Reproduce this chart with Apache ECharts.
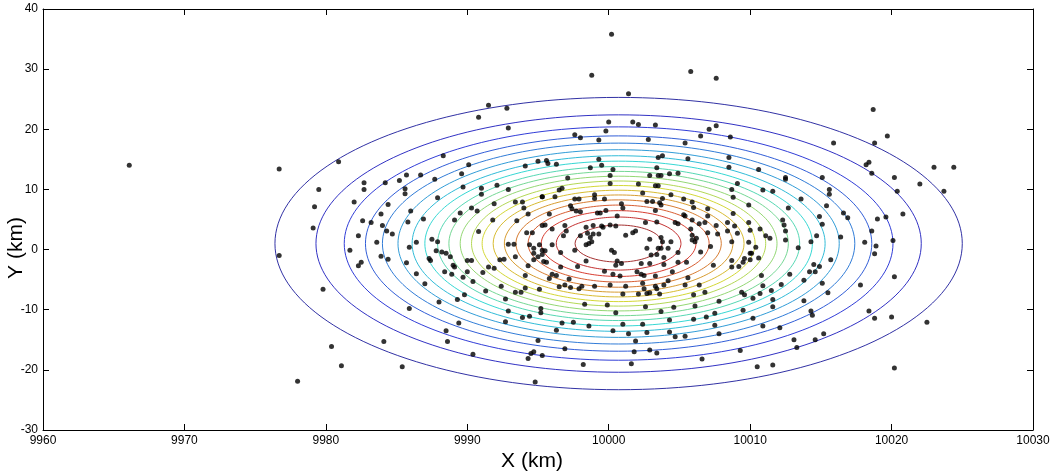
<!DOCTYPE html>
<html>
<head>
<meta charset="utf-8">
<script src="https://cdn.jsdelivr.net/npm/echarts@6/dist/echarts.min.js"></script>
<style>
  html, body { margin: 0; padding: 0; background: #ffffff; }
  #chart { width: 1063px; height: 476px; }
</style>
</head>
<body>
<div id="chart"></div>
<script>
// Axis ranges and ticks (km)
const xTicks = [9960, 9970, 9980, 9990, 10000, 10010, 10020, 10030];
const yTicks = [-30, -20, -10, 0, 10, 20, 30, 40];
const xTitle = 'X (km)';
const yTitle = 'Y (km)';

// Density contours: centre and radius of each level, outermost first (km)
const contourCenter = [10000.7, 1.0];
const contourRadii = [24.3, 21.4, 19.4, 17.9, 16.7, 15.6, 14.6, 13.7, 12.8, 12.0,
                      11.2, 10.4, 9.65, 8.87, 8.08, 7.26, 6.40, 5.47, 4.41, 3.08];

// Sample positions [x km, y km]
const samples = [
  [9991.5,24.0],[9992.8,23.5],[9990.8,22.0],[9992.9,20.2],
  [10000.2,35.8],[9998.8,29.0],[10005.8,29.6],[10007.6,28.5],[10001.4,25.9],[10000.0,21.2],[10001.7,21.2],[10002.1,20.8],[10003.3,20.7],[9999.8,19.7],[9997.6,19.1],[9998.0,18.6],[9999.3,18.2],[10002.8,18.3],[10007.1,20.0],[10007.6,20.6],[10006.5,18.9],[10008.6,18.7],[10005.4,17.7],
  [10018.7,23.3],[10019.7,18.9],[10018.8,17.7],[10015.9,17.7],
  [9966.1,14.0],[9976.7,13.4],[9979.5,10.0],[9979.2,7.1],[9979.1,3.6],[9976.7,-1.0],
  [9980.9,14.6],[9988.3,15.6],[9990.1,14.1],[9994.1,13.9],[9995.0,14.7],[9982.7,11.1],[9982.7,10.0],[9984.2,11.1],[9985.2,11.5],[9985.7,12.4],[9986.7,12.4],[9987.7,11.7],[9989.6,12.6],[9985.6,10.1],[9985.6,9.3],[9982.0,7.9],[9984.4,7.5],[9987.9,8.6],[9989.7,10.4],[9991.0,10.2],[9991.0,9.2],[9992.1,10.7],[9992.9,10.0],[9995.3,8.8],[9993.4,7.9],[9993.9,7.9],[9991.9,7.6],[9994.0,6.9],[9990.3,6.9],[9990.7,6.4],[9989.5,6.1],[9986.0,6.4],[9983.9,5.9],[9982.6,4.8],[9983.2,4.5],[9985.8,4.6],[9986.9,5.1],[9989.1,4.9],[9984.0,4.0],[9994.3,5.9],[9993.5,4.8],[9991.8,4.9],[9995.3,4.0],[9984.3,3.1],[9984.7,2.6],[9982.3,2.3],[9990.8,3.0],[9994.2,2.8],[9994.6,2.8],[9987.5,1.7],[9987.9,1.3],[9986.4,1.2],[9983.6,1.2],[9992.9,0.9],[9993.3,0.9],[9994.4,0.8],[9994.7,0.2],[9995.1,0.8],[9985.9,0.4],[9981.7,-0.1],[9987.8,-0.2],[9988.2,-0.4],[9988.5,-0.6],[9988.8,-1.2],[9983.9,-1.1],[9984.4,-1.6],[9987.3,-1.5],[9987.4,-1.8],[9992.3,-1.7],[9992.6,-1.6],[9993.4,-1.2],[9994.7,-0.6],[9995.0,-1.2],[9995.3,-0.1],[9982.5,-2.1],[9982.3,-2.7],[9985.7,-2.2],[9990.0,-1.8],[9990.3,-1.8],[9989.0,-2.6],[9989.1,-2.9],[9991.5,-2.9],[9991.9,-3.1],[9994.3,-2.7],[9994.7,-1.7],[9995.4,-2.0],
  [9995.6,14.8],[9995.7,14.3],[9996.3,14.2],[9999.3,15.0],[9999.5,14.0],[9998.7,13.6],[10000.3,13.3],[10000.1,12.3],[9997.1,11.9],[10000.1,11.0],[10003.5,15.3],[10003.8,15.6],[10005.6,15.1],[10008.5,15.3],[10008.5,13.7],[10002.9,12.3],[10003.4,13.6],[10003.5,12.3],[10003.7,12.3],[10004.3,12.6],[10004.9,12.7],[10002.1,10.9],[10003.3,10.6],[10003.5,10.6],[10009.1,11.0],
  [9995.3,8.8],[9996.2,8.8],[9996.5,9.9],[9996.7,10.2],[9999.0,9.1],[9999.0,8.5],[9999.7,8.4],[9997.6,8.4],[9997.9,8.4],[10002.4,9.4],[10004.4,9.1],[10003.8,8.5],[10002.7,8.0],[10003.1,8.0],[10003.6,7.8],[10003.7,7.4],[10005.3,8.4],[10005.9,7.9],[10008.7,10.0],[10008.8,8.7],[10009.9,7.4],
  [9997.3,7.3],[9997.4,6.8],[9998.0,6.3],[9995.8,5.9],[9997.7,6.4],[9999.2,6.1],[9999.4,6.1],[9999.8,6.5],[10000.9,7.6],[10001.0,6.9],[10000.6,5.6],[10003.3,6.5],[10006.0,7.0],[10007.0,6.8],[10007.0,5.6],[10005.3,5.8],[10005.4,5.6],[10008.8,6.0],
  [9995.5,4.1],[9996.0,3.4],[9996.9,4.0],[9997.0,3.1],[9998.4,3.7],[9998.9,4.0],[9999.5,3.9],[9999.6,3.7],[10000.1,4.1],[10000.5,3.9],[10002.6,4.5],[10003.4,4.6],[10004.7,4.5],[10004.9,4.3],[10005.9,4.9],[10006.8,4.5],[10006.4,4.3],[10007.6,4.0],[10008.4,4.5],[10008.9,3.9],[10009.9,4.5],
  [9996.8,2.3],[9998.5,2.7],[9998.9,2.6],[9999.3,2.6],[9998.7,2.0],[9998.0,2.3],[10001.2,2.4],[10001.7,2.8],[10001.9,3.1],[10002.9,1.7],[10003.7,2.0],[10003.8,1.3],[10004.4,1.3],[10005.8,3.4],[10005.9,2.4],[10005.9,1.6],[10006.1,1.3],[10006.2,1.9],[10007.0,2.8],[10007.7,2.6],[10008.4,3.1],[10009.1,2.7],[10010.0,3.2],
  [9996.0,0.8],[9998.6,1.0],[9998.4,0.8],[9998.8,1.3],[10000.2,-0.1],[10000.4,-0.5],[10002.7,0.2],[10003.5,0.2],[10003.7,0.2],[10004.2,0.2],[10007.2,0.5],[10006.5,-0.4],[10008.7,1.3],[10009.9,1.2],[10010.0,-0.6],[9995.5,-0.2],[9995.3,-0.8],[9996.6,-0.5],[9997.6,-0.1],[10003.0,-0.9],[10003.4,-0.8],[10003.9,-1.3],[10004.9,-0.5],
  [9998.4,-1.9],[10000.6,-1.9],[10000.9,-2.3],[10000.5,-2.6],[9995.6,-2.1],[9996.6,-2.9],[9997.8,-2.8],[10002.3,-2.3],[10002.9,-2.3],[10003.9,-2.5],[10004.9,-2.1],[10005.5,-2.1],[10007.4,-2.6],[10008.7,-1.8],[10009.5,-2.1],[10009.6,-1.5],[10010.0,-1.7],[10009.2,-2.8],[10008.7,-2.9],
  [10018.2,14.1],[10018.4,14.5],[10018.6,12.7],[10020.2,12.0],[10023.0,13.7],[10024.4,13.7],[10022.0,10.9],[10020.4,9.7],[10023.7,9.7],[10010.6,13.3],[10012.5,12.0],[10012.5,11.7],[10015.1,12.0],[10010.9,9.9],[10011.6,9.7],[10015.6,10.0],[10015.6,9.2],[10013.6,8.4],[10015.4,7.3],[10012.7,6.9],[10014.9,5.5],[10016.6,6.1],[10016.9,5.3],[10015.1,4.2],[10012.3,4.9],[10012.4,4.1],[10012.5,3.1],[10019.0,5.1],[10019.6,5.4],[10020.8,5.9],[10010.7,3.4],[10011.1,2.3],[10011.4,1.9],[10012.5,1.6],[10014.7,2.3],[10016.4,2.1],[10018.6,3.1],[10018.1,1.2],[10018.9,0.6],[10020.1,1.5],[10018.8,-0.7],[10014.3,1.3],[10013.4,0.3],[10010.4,0.4],[10010.1,-0.6],[10010.6,-1.4],[10015.7,-1.7],[10014.5,-2.5],[10014.9,-2.8],
  [9979.8,-6.6],[9980.4,-16.1],[9978.0,-21.9],
  [9986.4,-4.0],[9988.4,-3.7],[9988.9,-4.1],[9989.7,-4.6],[9990.0,-3.7],[9991.1,-3.8],[9987.0,-5.7],[9990.4,-5.3],[9992.4,-6.1],[9991.3,-6.9],[9989.8,-7.5],[9988.0,-8.7],[9989.3,-8.3],[9993.4,-7.1],[9993.8,-7.1],[9994.1,-4.3],[9995.1,-6.6],[9994.1,-6.4],[9992.7,-8.2],[9992.9,-10.2],[9995.2,-9.8],[9995.2,-10.5],[9993.9,-11.3],[9994.4,-11.1],[9992.7,-12.0],[9985.9,-9.8],[9989.4,-12.2],[9988.5,-13.5],[9988.6,-15.3],[9984.1,-15.3],[9981.1,-19.3],[9985.4,-19.5],[9990.4,-17.4],[9995.0,-15.1],[9994.5,-17.3],[9994.7,-17.0],[9994.3,-18.1],[9995.3,-17.6],[9994.8,-22.0],
  [9996.0,-4.1],[9996.3,-4.3],[9995.8,-4.8],[9997.2,-4.9],[10000.3,-4.1],[10000.8,-4.4],[9999.7,-3.6],[10002.0,-3.7],[10002.3,-4.1],[10002.5,-4.3],[10003.3,-4.4],[10004.5,-3.7],[10005.6,-4.7],[9996.5,-6.2],[9996.9,-5.9],[9997.3,-6.3],[9997.9,-6.5],[9998.1,-6.1],[9999.0,-6.1],[10000.1,-5.9],[10001.2,-6.1],[10002.4,-5.6],[10002.5,-6.5],[10002.1,-7.4],[10002.7,-7.3],[10002.9,-7.2],[10003.3,-6.1],[10003.4,-6.5],[10003.6,-7.4],[10003.9,-5.9],[10004.2,-5.2],[10005.4,-5.9],[10006.4,-5.9],[10001.0,-7.4],[10006.0,-7.5],[10006.8,-7.1],
  [9998.3,-9.1],[9999.9,-9.2],[10002.6,-9.5],[10004.6,-9.6],[10006.1,-9.4],[10007.8,-8.6],[10009.4,-7.1],[10009.6,-7.5],[10010.2,-8.1],[10000.5,-10.5],[10003.7,-10.3],[9996.7,-12.2],[9997.5,-12.1],[9998.6,-12.7],[10001.0,-12.4],[10002.4,-12.4],[10004.3,-11.7],[10006.0,-11.6],[10006.9,-11.2],[10007.5,-10.6],[10009.5,-10.1],[10010.2,-11.4],[10007.5,-12.6],
  [9996.3,-13.4],[10000.3,-13.5],[10001.4,-14.0],[10002.7,-13.8],[10004.3,-13.7],[10004.7,-14.5],[10005.4,-14.4],[10001.9,-15.2],[10007.8,-14.0],[9996.9,-16.5],[10001.8,-17.0],[10002.9,-16.7],[10003.4,-17.2],[10009.3,-16.8],[10006.6,-18.2],[9998.2,-19.1],[10001.6,-19.0],
  [10010.8,-4.3],[10012.8,-4.1],[10014.2,-3.7],[10014.6,-3.7],[10013.8,-5.1],[10012.2,-5.8],[10010.9,-6.0],[10010.7,-7.3],[10011.5,-6.8],[10015.1,-5.6],[10011.6,-8.3],[10011.6,-9.5],[10015.5,-7.2],[10013.8,-8.5],[10014.3,-10.2],[10014.4,-10.9],[10010.9,-12.7],[10012.1,-13.0],[10015.2,-14.0],[10013.1,-15.0],[10014.6,-15.0],[10013.3,-16.3],
  [10017.8,-5.9],[10020.2,-4.5],[10018.4,-10.2],[10018.8,-11.4],[10020.0,-11.2],[10022.5,-12.1],[10010.5,-19.5],[10011.6,-19.2],[10020.2,-19.7]
];

// MATLAB-style jet colour map, t in [0, 1], toned down slightly toward grey
function jet(t) {
  const c = v => {
    const x = Math.max(0, Math.min(1, v));
    return Math.round(255 * (0.72 * x + 0.28 * 0.38));
  };
  const r = c(1.5 - Math.abs(4 * t - 3));
  const g = c(1.5 - Math.abs(4 * t - 2));
  const b = c(1.5 - Math.abs(4 * t - 1));
  return 'rgb(' + r + ',' + g + ',' + b + ')';
}

// Closed ring of points for one contour level
function ring(r) {
  const pts = [];
  for (let a = 0; a <= 360; a += 2) {
    const rad = a * Math.PI / 180;
    pts.push([contourCenter[0] + r * Math.cos(rad), contourCenter[1] + r * Math.sin(rad)]);
  }
  return pts;
}

const nLevels = contourRadii.length;
const contourSeries = contourRadii.map((r, i) => ({
  type: 'line',
  data: ring(r),
  showSymbol: false,
  symbol: 'none',
  silent: true,
  animation: false,
  z: 1,
  lineStyle: { width: 1, color: jet((i + 1) / (nLevels + 1)), opacity: 0.9 }
}));

const font = "'Liberation Sans', Arial, sans-serif";
const plain = v => String(v);
const axisCommon = {
  type: 'value',
  splitLine: { show: false },
  axisLine: { show: true, onZero: false, lineStyle: { color: '#000', width: 1 } },
  axisTick: { show: true, inside: true, length: 6, lineStyle: { color: '#000', width: 1 } }
};

const chart = echarts.init(document.getElementById('chart'), null, { renderer: 'canvas' });
chart.setOption({
  animation: false,
  backgroundColor: '#ffffff',
  grid: { left: 43, right: 30, top: 9, bottom: 46, containLabel: false, outerBoundsMode: 'none' },
  // Axis titles
  graphic: [
    {
      type: 'text', x: 532, y: 461, silent: true,
      style: { text: xTitle, x: 0, y: 0, align: 'center', verticalAlign: 'middle',
               fill: '#000', font: "21px 'Liberation Sans', Arial, sans-serif" }
    },
    {
      type: 'text', x: 16, y: 248, rotation: Math.PI / 2, silent: true,
      style: { text: yTitle, x: 0, y: 0, align: 'center', verticalAlign: 'middle',
               fill: '#000', font: "21px 'Liberation Sans', Arial, sans-serif" }
    }
  ],
  xAxis: [
    Object.assign({}, axisCommon, {
      position: 'bottom',
      min: xTicks[0], max: xTicks[xTicks.length - 1], interval: 10,
      axisLabel: { color: '#000', fontSize: 12, fontFamily: font, margin: 5, formatter: plain }
    }),
    Object.assign({}, axisCommon, {
      position: 'top',
      min: xTicks[0], max: xTicks[xTicks.length - 1], interval: 10,
      axisLabel: { show: false }
    })
  ],
  yAxis: [
    Object.assign({}, axisCommon, {
      position: 'left',
      min: yTicks[0], max: yTicks[yTicks.length - 1], interval: 10,
      axisLabel: { color: '#000', fontSize: 12, fontFamily: font, margin: 5, formatter: plain }
    }),
    Object.assign({}, axisCommon, {
      position: 'right',
      min: yTicks[0], max: yTicks[yTicks.length - 1], interval: 10,
      axisLabel: { show: false }
    })
  ],
  series: contourSeries.concat([{
    type: 'scatter',
    data: samples,
    symbol: 'circle',
    symbolSize: 5,
    z: 3,
    silent: true,
    animation: false,
    itemStyle: { color: '#000' }
  }])
});
</script>
</body>
</html>
